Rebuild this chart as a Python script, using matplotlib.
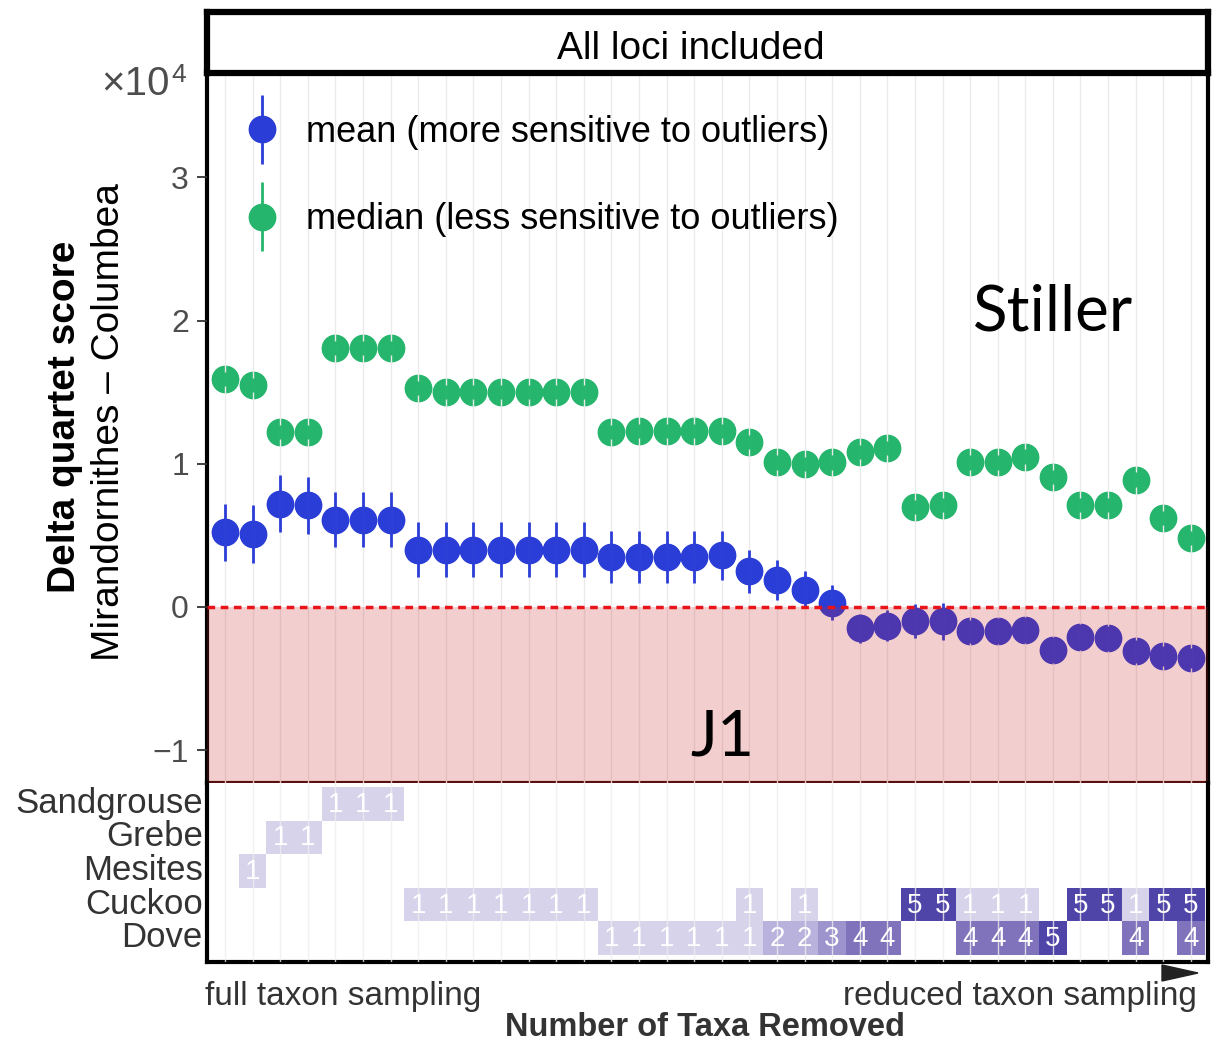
import numpy as np
import matplotlib
matplotlib.use('Agg')
import matplotlib.pyplot as plt
from matplotlib.container import ErrorbarContainer
from matplotlib.legend_handler import HandlerErrorbar
from matplotlib.patches import Polygon

plt.rcParams['font.family'] = ['Liberation Sans', 'DejaVu Sans']

# Delta quartet score (x 10^4), one value per taxon-removal scenario, left to right
mean_score = [0.52, 0.51, 0.72, 0.71, 0.61, 0.61, 0.61,
              0.40, 0.40, 0.40, 0.40, 0.40, 0.40, 0.40,
              0.35, 0.35, 0.35, 0.35, 0.36, 0.25, 0.19, 0.12, 0.03,
              -0.15, -0.13, -0.10, -0.10, -0.17, -0.17, -0.16,
              -0.30, -0.21, -0.22, -0.31, -0.34, -0.36]
mean_err = [0.20, 0.20, 0.20, 0.20, 0.19, 0.19, 0.19,
            0.19, 0.19, 0.19, 0.19, 0.19, 0.19, 0.19,
            0.18, 0.18, 0.18, 0.18, 0.17, 0.15, 0.14, 0.13, 0.12,
            0.10, 0.11, 0.12, 0.13, 0.08, 0.09, 0.09,
            0.09, 0.09, 0.09, 0.08, 0.07, 0.07]
median_score = [1.59, 1.55, 1.22, 1.22, 1.81, 1.81, 1.81,
                1.53, 1.50, 1.50, 1.50, 1.50, 1.50, 1.50,
                1.22, 1.23, 1.23, 1.23, 1.23, 1.15, 1.01, 1.00, 1.01,
                1.08, 1.11, 0.70, 0.71, 1.01, 1.01, 1.05,
                0.91, 0.71, 0.71, 0.89, 0.62, 0.48]
median_err = [0.05] * 36

# taxa removed in each scenario (number = how many taxa of that clade removed)
taxa = ['Sandgrouse', 'Grebe', 'Mesites', 'Cuckoo', 'Dove']
sandgrouse = [0, 0, 0, 0, 1, 1, 1, 0, 0, 0, 0, 0, 0, 0, 0, 0, 0, 0,
              0, 0, 0, 0, 0, 0, 0, 0, 0, 0, 0, 0, 0, 0, 0, 0, 0, 0]
grebe = [0, 0, 1, 1, 0, 0, 0, 0, 0, 0, 0, 0, 0, 0, 0, 0, 0, 0,
         0, 0, 0, 0, 0, 0, 0, 0, 0, 0, 0, 0, 0, 0, 0, 0, 0, 0]
mesites = [0, 1, 0, 0, 0, 0, 0, 0, 0, 0, 0, 0, 0, 0, 0, 0, 0, 0,
           0, 0, 0, 0, 0, 0, 0, 0, 0, 0, 0, 0, 0, 0, 0, 0, 0, 0]
cuckoo = [0, 0, 0, 0, 0, 0, 0, 1, 1, 1, 1, 1, 1, 1, 0, 0, 0, 0,
          0, 1, 0, 1, 0, 0, 0, 5, 5, 1, 1, 1, 0, 5, 5, 1, 5, 5]
dove = [0, 0, 0, 0, 0, 0, 0, 0, 0, 0, 0, 0, 0, 0, 1, 1, 1, 1,
        1, 1, 2, 2, 3, 4, 4, 0, 0, 4, 4, 4, 5, 0, 0, 4, 0, 4]
removed = [sandgrouse, grebe, mesites, cuckoo, dove]

TILE_COLORS = {1: '#d6d3eb', 2: '#b9b2dd', 3: '#9d93cd', 4: '#8073bc', 5: '#4f44a8'}
BLUE = '#2a3dd6'
GREEN = '#25b56c'
GRID = '#ebebeb'

W_PX, H_PX = 1218, 1044
fig = plt.figure(figsize=(W_PX / 100, H_PX / 100), dpi=100)

left = 207 / W_PX
width = 1208 / W_PX - left
ax = fig.add_axes([left, 1 - 783 / H_PX, width, (783 - 73) / H_PX])
ax_title = fig.add_axes([left, 1 - 73 / H_PX, width, (73 - 12) / H_PX])
ax_t = fig.add_axes([left, 1 - 962 / H_PX, width, (962 - 783) / H_PX])

cols = np.arange(1, len(mean_score) + 1)
xlim = (0.35, len(cols) + 0.62)

# --- main panel
for vals, errs, col, lab in [
        (mean_score, mean_err, BLUE, 'mean (more sensitive to outliers)'),
        (median_score, median_err, GREEN, 'median (less sensitive to outliers)')]:
    cont = ax.errorbar(cols, vals, yerr=errs, fmt='o', color=col, ms=19,
                       elinewidth=2, capsize=0, label=lab, zorder=2)
    for lc in cont[2]:
        lc.set_zorder(2.6)
ax.set_xlim(*xlim)
ax.set_ylim(-1.23, 3.73)
ax.axhspan(-1.23, 0, color='#cc2222', alpha=0.22, lw=0, zorder=3)
ax.axhline(0, color='#e8141a', lw=2.5, dashes=(2.2, 1.6), zorder=4)

ax.set_xticks(cols)
ax.set_axisbelow(False)
ax.grid(axis='x', color=GRID, lw=1)
ax.tick_params(axis='x', length=0, labelbottom=False)
ax.set_yticks([-1, 0, 1, 2, 3])
ax.set_yticklabels(['\u22121', '0', '1', '2', '3'])
ax.tick_params(axis='y', length=7, width=1.3, color='#333333', labelsize=23,
               labelcolor='#4d4d4d', pad=6)
ax.spines['top'].set_visible(False)
ax.spines['left'].set_linewidth(3)
ax.spines['right'].set_linewidth(3)
ax.spines['bottom'].set_linewidth(3)
ax.spines['bottom'].set_color('#3a0a0a')

ax.legend(loc='upper left', bbox_to_anchor=(222 / W_PX, 1 - 97 / H_PX),
          bbox_transform=fig.transFigure, frameon=False, fontsize=26,
          handlelength=1.2, handletextpad=0.62, labelspacing=1.45, borderpad=0,
          handler_map={ErrorbarContainer: HandlerErrorbar(yerr_size=0.95)})

# --- title strip
ax_title.set_xticks([])
ax_title.set_yticks([])
for s in ax_title.spines.values():
    s.set_linewidth(4.5)
ax_title.text((691 - 207) / (1208 - 207), 0.40, 'All loci included', ha='center',
              va='center', fontsize=28, transform=ax_title.transAxes)

# --- removed-taxa tile panel
for row, (name, counts) in enumerate(zip(taxa, removed)):
    for x, n in zip(cols, counts):
        if n == 0:
            continue
        ax_t.bar(x, 1, bottom=row - 0.5, width=1, color=TILE_COLORS[n], lw=0, zorder=1)
        ax_t.text(x, row + 0.03, str(n), ha='center', va='center', color='white',
                  fontsize=20, zorder=3)
ax_t.set_xlim(*xlim)
ax_t.set_ylim(4.71, -0.62)
ax_t.set_xticks(cols)
ax_t.set_axisbelow(False)
ax_t.grid(axis='x', color='#eeeeee', lw=1, alpha=0.8)
ax_t.tick_params(axis='x', length=0, labelbottom=False)
ax_t.set_yticks([r - 0.12 for r in range(len(taxa))])
ax_t.set_yticklabels(taxa)
ax_t.tick_params(axis='y', length=0, labelsize=25, labelcolor='#333333', pad=3)
ax_t.spines['top'].set_visible(False)
for s in ['left', 'right', 'bottom']:
    ax_t.spines[s].set_linewidth(3)

# --- labels and annotations
fig.text(65 / W_PX, 1 - 417 / H_PX, 'Delta quartet score', rotation=90,
         fontsize=28, fontweight='bold', ha='center', va='center')
fig.text(109 / W_PX, 1 - 422 / H_PX, 'Mirandornithes \u2013 Columbea', rotation=90,
         fontsize=28, ha='center', va='center')
fig.text(170 / W_PX, 1 - 84 / H_PX, '\u00d710', ha='right', va='center',
         fontsize=29, color='#4d4d4d')
fig.text(171 / W_PX, 1 - 75 / H_PX, '4', ha='left', va='center',
         fontsize=19, color='#4d4d4d')
fig.text(1053 / W_PX, 1 - 312 / H_PX, 'Stiller', ha='center', va='center',
         fontsize=46, family=['Lato', 'DejaVu Sans'])
fig.text(722 / W_PX, 1 - 737 / H_PX, 'J1', ha='center', va='center',
         fontsize=46, family=['Lato', 'DejaVu Sans'])

fig.text(205 / W_PX, 1 - 997 / H_PX, 'full taxon sampling', ha='left', va='center',
         fontsize=24, color='#333333')
fig.text(1197 / W_PX, 1 - 997 / H_PX, 'reduced taxon sampling', ha='right', va='center',
         fontsize=24, color='#333333')
fig.text(705 / W_PX, 1 - 1036 / H_PX, 'Number of Taxa Removed', ha='center', va='baseline',
         fontsize=23.5, fontweight='bold', color='#333333')
arrow = Polygon([(1162 / W_PX, 1 - 965 / H_PX), (1198 / W_PX, 1 - 973 / H_PX),
                 (1162 / W_PX, 1 - 981 / H_PX)], closed=True, color='#222222',
                transform=fig.transFigure)
fig.add_artist(arrow)

fig.savefig('out.png', dpi=100)
